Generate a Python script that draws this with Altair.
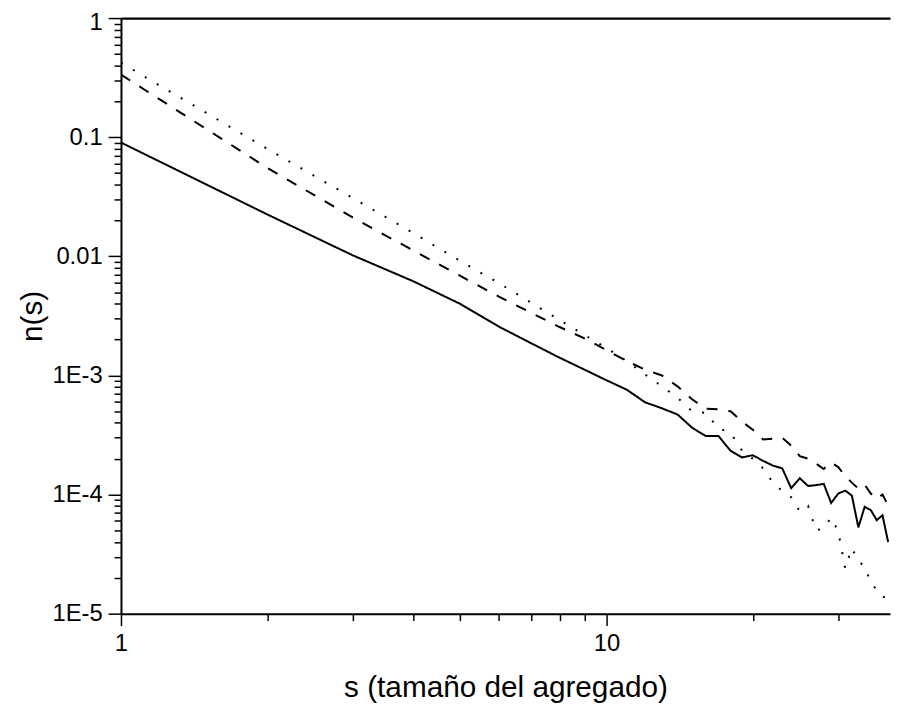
import altair as alt
import pandas as pd

s_vals = list(range(1, 39))

solid = [0.0902, 0.0225, 0.0102, 0.00617, 0.00398, 0.00257, 0.00186, 0.00141, 0.00112, 0.00091,
         0.00076, 0.000595, 0.00053, 0.00047, 0.000364, 0.00031, 0.00031, 0.000233, 0.000205, 0.000214,
         0.000192, 0.000175, 0.000166, 0.000113, 0.000137, 0.000118, 0.00012, 0.000123, 0.000085, 0.000102,
         0.000108, 0.000098, 0.000053, 0.000079, 0.000074, 0.000061, 0.000067, 0.00004]

dashed = [0.335, 0.0553, 0.0212, 0.01117, 0.00684, 0.00459, 0.00335, 0.00255, 0.00205, 0.00163,
          0.00132, 0.00112, 0.001, 0.00081, 0.00063, 0.000525, 0.00052, 0.0005, 0.00041, 0.00035,
          0.00029, 0.000295, 0.0003, 0.000257, 0.00021, 0.0002, 0.000182, 0.000164, 0.000186, 0.00017,
          0.000143, 0.000126, 0.000112, 0.000121, 0.000102, 0.000092, 0.0001, 0.000081]

dotted = [0.422, 0.08, 0.0309, 0.01567, 0.00912, 0.00596, 0.00407, 0.00292, 0.00219, 0.0017,
          0.00132, 0.00102, 0.00081, 0.00065, 0.0005, 0.000485, 0.00036, 0.00033, 0.000235, 0.0002,
          0.000166, 0.000126, 0.000107, 0.000095, 0.000072, 0.00008, 0.00005, 0.000052, 0.000064, 0.000049,
          0.000024, 0.0000355, 0.0000275, 0.000025, 0.0000182, 0.0000158, 0.0000148, 0.000011]

series_names = ["solid", "dashed", "dotted"]
series_dash = [[1, 0], [11, 11], [2, 12]]

x_tick_values = [1, 2, 3, 4, 5, 6, 7, 8, 9, 10, 20, 30]
y_tick_values = [m * 10.0 ** e for e in range(-5, 0) for m in range(1, 10)] + [1]

rows = []
for name, vals in zip(series_names, [solid, dashed, dotted]):
    for sv, v in zip(s_vals, vals):
        rows.append({"s": sv, "n": v, "serie": name})
df = pd.DataFrame(rows)

W, H = 776, 601
FONT = "Liberation Sans"
major = "abs(log(datum.value)/LN10 - round(log(datum.value)/LN10)) < 1e-6"

x_scale = alt.Scale(type="log", domain=[1, 38.34], nice=False)
y_scale = alt.Scale(type="log", domain=[1e-5, 1], nice=False)

x_axis = alt.Axis(
    values=x_tick_values,
    labelExpr=f"{major} ? toString(round(datum.value)) : ''",
    tickSize={"condition": {"test": major, "value": 12}, "value": 7},
    tickWidth=1.5, tickColor="black",
    domainWidth=2, domainColor="black",
    labelFont=FONT, labelFontSize=24, labelColor="black", labelPadding=6,
    labelOverlap=False, labelFlush=False,
    grid=False,
    title="s (tamaño del agregado)", titleFont=FONT, titleFontSize=30,
    titleFontWeight="normal", titleColor="black", titlePadding=18,
)

y_axis = alt.Axis(
    values=y_tick_values,
    labelExpr=f"{major} ? (datum.value >= 0.01 ? toString(datum.value) : '1E' + round(log(datum.value)/LN10)) : ''",
    labelOffset={"condition": {"test": "datum.value == 1", "value": 5}, "value": 0},
    tickSize={"condition": {"test": major, "value": 13}, "value": 7},
    tickWidth=1.5, tickColor="black",
    domainWidth=2, domainColor="black",
    labelFont=FONT, labelFontSize=24, labelColor="black", labelPadding=6,
    labelOverlap=False, labelFlush=False,
    grid=False,
    title="n(s)", titleFont=FONT, titleFontSize=30,
    titleFontWeight="normal", titleColor="black", titlePadding=4,
)

lines = alt.Chart(df).mark_line(color="black", strokeWidth=2, clip=True).encode(
    x=alt.X("s:Q", scale=x_scale, axis=x_axis),
    y=alt.Y("n:Q", scale=y_scale, axis=y_axis),
    strokeDash=alt.StrokeDash("serie:N", scale=alt.Scale(domain=series_names, range=series_dash), legend=None),
    detail="serie:N",
)

top = alt.Chart(df).mark_line(opacity=0).encode(
    x=alt.X("s:Q", scale=x_scale,
            axis=alt.Axis(orient="top", labels=False, ticks=False, domainWidth=2.2,
                          domainColor="black", title=None, grid=False)),
    y=alt.Y("n:Q", scale=y_scale, axis=y_axis),
    detail="serie:N",
)

chart = alt.layer(lines, top).resolve_axis(x="independent").properties(
    width=W, height=H,
    autosize=alt.AutoSizeParams(type="none"),
    padding={"left": 114, "top": 7, "right": 1, "bottom": 92},
    background="white",
).configure_view(stroke=None)

chart.save("out.html", embed_options={"renderer": "svg", "actions": False})
